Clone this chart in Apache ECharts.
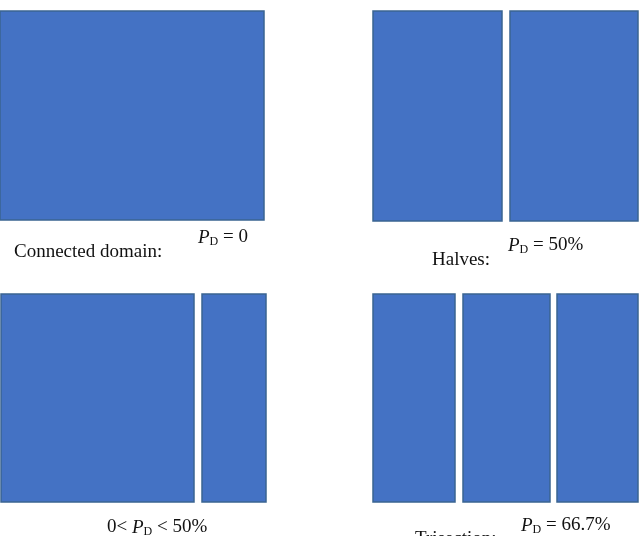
<!DOCTYPE html><html><head><meta charset="utf-8"><script src="https://cdn.jsdelivr.net/npm/echarts@6/dist/echarts.min.js"></script>
<style>html,body{margin:0;background:#fff}#c{width:640px;height:536px}</style></head><body><div id="c"></div><script>
// Rectangles: [x0, x1, y0, y1] in diagram units
const panelTopLeft = [[0,264,11,220]];
const panelTopRight = [[373,502,11,221],[510,638,11,221]];
const panelBottomLeft = [[1,194,294,502],[202,266,294,502]];
const panelBottomRight = [[373,455,294,502],[463,550,294,502],[557,638,294,502]];
const rects = [].concat(panelTopLeft, panelTopRight, panelBottomLeft, panelBottomRight);
const chart = echarts.init(document.getElementById('c'));
const serif = '"Liberation Serif","DejaVu Serif",serif';
function lbl(x,y,t,s){return {type:'text',left:x,top:y,style:{text:t,font:(s||19)+'px '+serif,fill:'#111'}};}
function pd(x,y,rest){return {type:'text',left:x,top:y,style:{rich:{p:{fontFamily:serif,fontStyle:'italic',fontSize:19,fill:'#111'},d:{fontFamily:serif,fontSize:12,verticalAlign:'bottom',padding:[8,0,0,0],fill:'#111'},r:{fontFamily:serif,fontSize:19,fill:'#111'}},text:'{p|P}{d|D}{r|'+rest+'}'}};}
chart.setOption({
  animation:false,
  grid:{left:0,right:0,top:0,bottom:0},
  xAxis:{type:'value',min:0,max:640,show:false},
  yAxis:{type:'value',min:0,max:536,inverse:true,show:false},
  series:[{type:'custom',data:rects,renderItem:function(p,api){
    const a=api.coord([api.value(0),api.value(2)]),b=api.coord([api.value(1),api.value(3)]);
    return {type:'rect',shape:{x:a[0],y:a[1],width:b[0]-a[0],height:b[1]-a[1]},style:{fill:'#4472C4',stroke:'#3A6491',lineWidth:1.5}};
  }}],
  graphic:[
    lbl(14,243,'Connected domain:'), pd(198,228,' = 0'),
    lbl(432,251,'Halves:'), pd(508,236,' = 50%'),
    {type:'text',left:107,top:518,style:{rich:{r:{fontFamily:serif,fontSize:19,fill:'#111'},p:{fontFamily:serif,fontStyle:'italic',fontSize:19,fill:'#111'},d:{fontFamily:serif,fontSize:12,fill:'#111',padding:[8,0,0,0]}},text:'{r|0< }{p|P}{d|D}{r| < 50%}'}},
    lbl(415,530,'Trisection:'), pd(521,516,' = 66.7%')
  ]
});
</script></body></html>
